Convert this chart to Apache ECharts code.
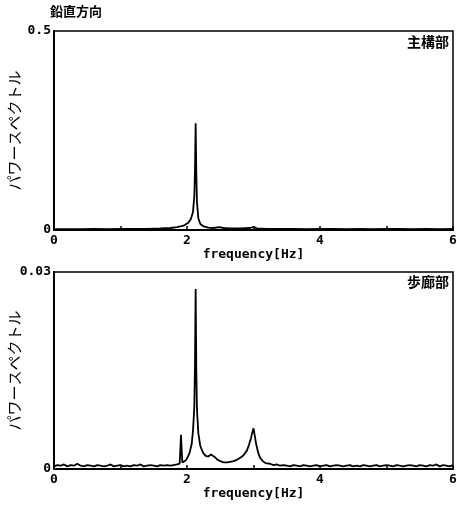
<!DOCTYPE html>
<html><head><meta charset="utf-8">
<script src="https://cdn.jsdelivr.net/npm/echarts@6/dist/echarts.min.js"></script>
<style>html,body{margin:0;padding:0;background:#fff}#c{width:457px;height:505px}</style>
</head><body><div id="c"></div>
<script>
// ---- data ----
const xTicks = [0, 2, 4, 6];
const topYTicks = ['0', '0.5'];
const botYTicks = ['0', '0.03'];
const topLabel = '主構部';
const botLabel = '歩廊部';
const figTitle = '鉛直方向';
const xName = 'frequency[Hz]';
const yName = 'パワースペクトル';

// upper panel (主構部)
const topFreq  = [0.00,0.20,0.40,0.60,0.80,1.00,1.20,1.40,1.60,1.75,1.85,1.95,2.02,2.06,2.09,2.11,2.12,2.13,2.14,2.15,2.17,2.20,2.25,2.32,2.40,2.48,2.55,2.65,2.80,2.95,3.00,3.05,3.20,3.40,3.60,3.80,4.00,4.20,4.40,4.60,4.80,5.00,5.20,5.40,5.60,5.80,6.00];
const topPower = [0.002,0.002,0.002,0.003,0.002,0.003,0.003,0.003,0.004,0.005,0.007,0.011,0.018,0.028,0.045,0.085,0.150,0.268,0.140,0.070,0.030,0.015,0.009,0.006,0.005,0.007,0.005,0.004,0.004,0.005,0.008,0.004,0.003,0.003,0.003,0.002,0.003,0.003,0.002,0.003,0.002,0.003,0.003,0.002,0.003,0.002,0.003];

// lower panel (歩廊部)
const botFreq  = [0.00,0.05,0.10,0.15,0.20,0.25,0.30,0.35,0.40,0.45,0.50,0.55,0.60,0.65,0.70,0.75,0.80,0.85,0.90,0.95,1.00,1.05,1.10,1.15,1.20,1.25,1.30,1.35,1.40,1.45,1.50,1.55,1.60,1.65,1.70,1.75,1.80,1.85,1.89,1.90,1.91,1.92,1.93,1.95,1.98,2.01,2.04,2.07,2.09,2.11,2.12,2.13,2.14,2.15,2.17,2.20,2.24,2.28,2.32,2.36,2.39,2.42,2.46,2.50,2.55,2.60,2.65,2.70,2.75,2.80,2.85,2.90,2.93,2.96,2.98,3.00,3.02,3.04,3.07,3.10,3.14,3.18,3.25,3.30,3.35,3.40,3.45,3.50,3.55,3.60,3.65,3.70,3.75,3.80,3.85,3.90,3.95,4.00,4.05,4.10,4.15,4.20,4.25,4.30,4.35,4.40,4.45,4.50,4.55,4.60,4.65,4.70,4.75,4.80,4.85,4.90,4.95,5.00,5.05,5.10,5.15,5.20,5.25,5.30,5.35,5.40,5.45,5.50,5.55,5.60,5.65,5.70,5.75,5.80,5.85,5.90,5.95,6.00];
const botPower = [0.0004,0.0006,0.0005,0.0007,0.0004,0.0006,0.0005,0.0008,0.0005,0.0004,0.0006,0.0005,0.0004,0.0006,0.0005,0.0004,0.0005,0.0007,0.0004,0.0005,0.0006,0.0004,0.0005,0.0004,0.0006,0.0005,0.0007,0.0004,0.0005,0.0006,0.0005,0.0004,0.0006,0.0005,0.0006,0.0005,0.0006,0.0007,0.0008,0.0030,0.0052,0.0028,0.0010,0.0011,0.0013,0.0018,0.0025,0.0038,0.0058,0.0095,0.0160,0.0274,0.0150,0.0090,0.0055,0.0035,0.0025,0.0020,0.0019,0.0022,0.0024,0.0018,0.0014,0.0012,0.0010,0.0010,0.0011,0.0012,0.0014,0.0017,0.0021,0.0028,0.0036,0.0046,0.0055,0.0062,0.0050,0.0038,0.0025,0.0017,0.0012,0.0009,0.0008,0.0006,0.0007,0.0005,0.0006,0.0005,0.0004,0.0006,0.0005,0.0004,0.0006,0.0005,0.0004,0.0005,0.0006,0.0004,0.0005,0.0006,0.0004,0.0005,0.0006,0.0005,0.0004,0.0005,0.0006,0.0004,0.0005,0.0004,0.0006,0.0005,0.0004,0.0005,0.0006,0.0004,0.0005,0.0006,0.0005,0.0004,0.0006,0.0005,0.0004,0.0005,0.0006,0.0005,0.0004,0.0006,0.0005,0.0004,0.0006,0.0005,0.0007,0.0004,0.0006,0.0005,0.0004,0.0006,0.0005,0.0007];

// ---- chart ----
const mono = '"DejaVu Sans Mono", monospace';
const cjk = '"Noto Sans CJK JP", sans-serif';
function pairs(xs, ys) { return xs.map((x, i) => [x, ys[i]]); }
function xAxisCfg(gi) {
  return {
    type: 'value', gridIndex: gi, min: 0, max: 6, interval: 1,
    name: xName, nameLocation: 'middle', nameGap: 18, nameMoveOverlap: false,
    nameTextStyle: { fontFamily: mono, fontWeight: 'bold', fontSize: 13, color: '#000' },
    axisLine: { show: true, lineStyle: { color: '#000', width: 2 } },
    axisTick: { show: true, inside: true, length: 4, lineStyle: { color: '#000', width: 1.5 } },
    axisLabel: { fontFamily: mono, fontWeight: 'bold', fontSize: 13, color: '#000', margin: 4,
      formatter: v => (xTicks.indexOf(v) >= 0 ? String(v) : '') },
    splitLine: { show: false }
  };
}
function yAxisCfg(gi, max, labels) {
  return {
    type: 'value', gridIndex: gi, min: 0, max: max, interval: max,
    name: yName, nameLocation: 'middle', nameGap: 32, nameRotate: 90, nameMoveOverlap: false,
    nameTextStyle: { fontFamily: cjk, fontSize: 15, color: '#000' },
    axisLine: { show: true, lineStyle: { color: '#000', width: 2 } },
    axisTick: { show: false },
    axisLabel: { fontFamily: mono, fontWeight: 'bold', fontSize: 13, color: '#000', margin: 3,
      formatter: v => (v === 0 ? labels[0] : labels[1]) },
    splitLine: { show: false }
  };
}
const chart = echarts.init(document.getElementById('c'), null, { renderer: 'canvas' });
chart.setOption({
  backgroundColor: '#fff',
  animation: false,
  grid: [
    { left: 54, top: 31, width: 399, height: 199, containLabel: false, outerBoundsMode: 'none', show: true, borderColor: '#000', borderWidth: 1.5, backgroundColor: 'transparent' },
    { left: 54, top: 272, width: 399, height: 197, containLabel: false, outerBoundsMode: 'none', show: true, borderColor: '#000', borderWidth: 1.5, backgroundColor: 'transparent' }
  ],
  xAxis: [xAxisCfg(0), xAxisCfg(1)],
  yAxis: [yAxisCfg(0, 0.5, topYTicks), yAxisCfg(1, 0.03, botYTicks)],
  series: [
    { type: 'line', xAxisIndex: 0, yAxisIndex: 0, data: pairs(topFreq, topPower), showSymbol: false,
      lineStyle: { color: '#000', width: 1.8 } },
    { type: 'line', xAxisIndex: 1, yAxisIndex: 1, data: pairs(botFreq, botPower), showSymbol: false,
      lineStyle: { color: '#000', width: 1.8 } }
  ],
  graphic: [
    { type: 'text', left: 50, top: 5, style: { text: figTitle, font: 'bold 13px "Noto Sans CJK JP"', fill: '#000' } },
    { type: 'text', right: 8, top: 35, style: { text: topLabel, font: 'bold 14px "Noto Sans CJK JP"', fill: '#000' } },
    { type: 'text', right: 8, top: 275, style: { text: botLabel, font: 'bold 14px "Noto Sans CJK JP"', fill: '#000' } }
  ]
});
</script></body></html>
